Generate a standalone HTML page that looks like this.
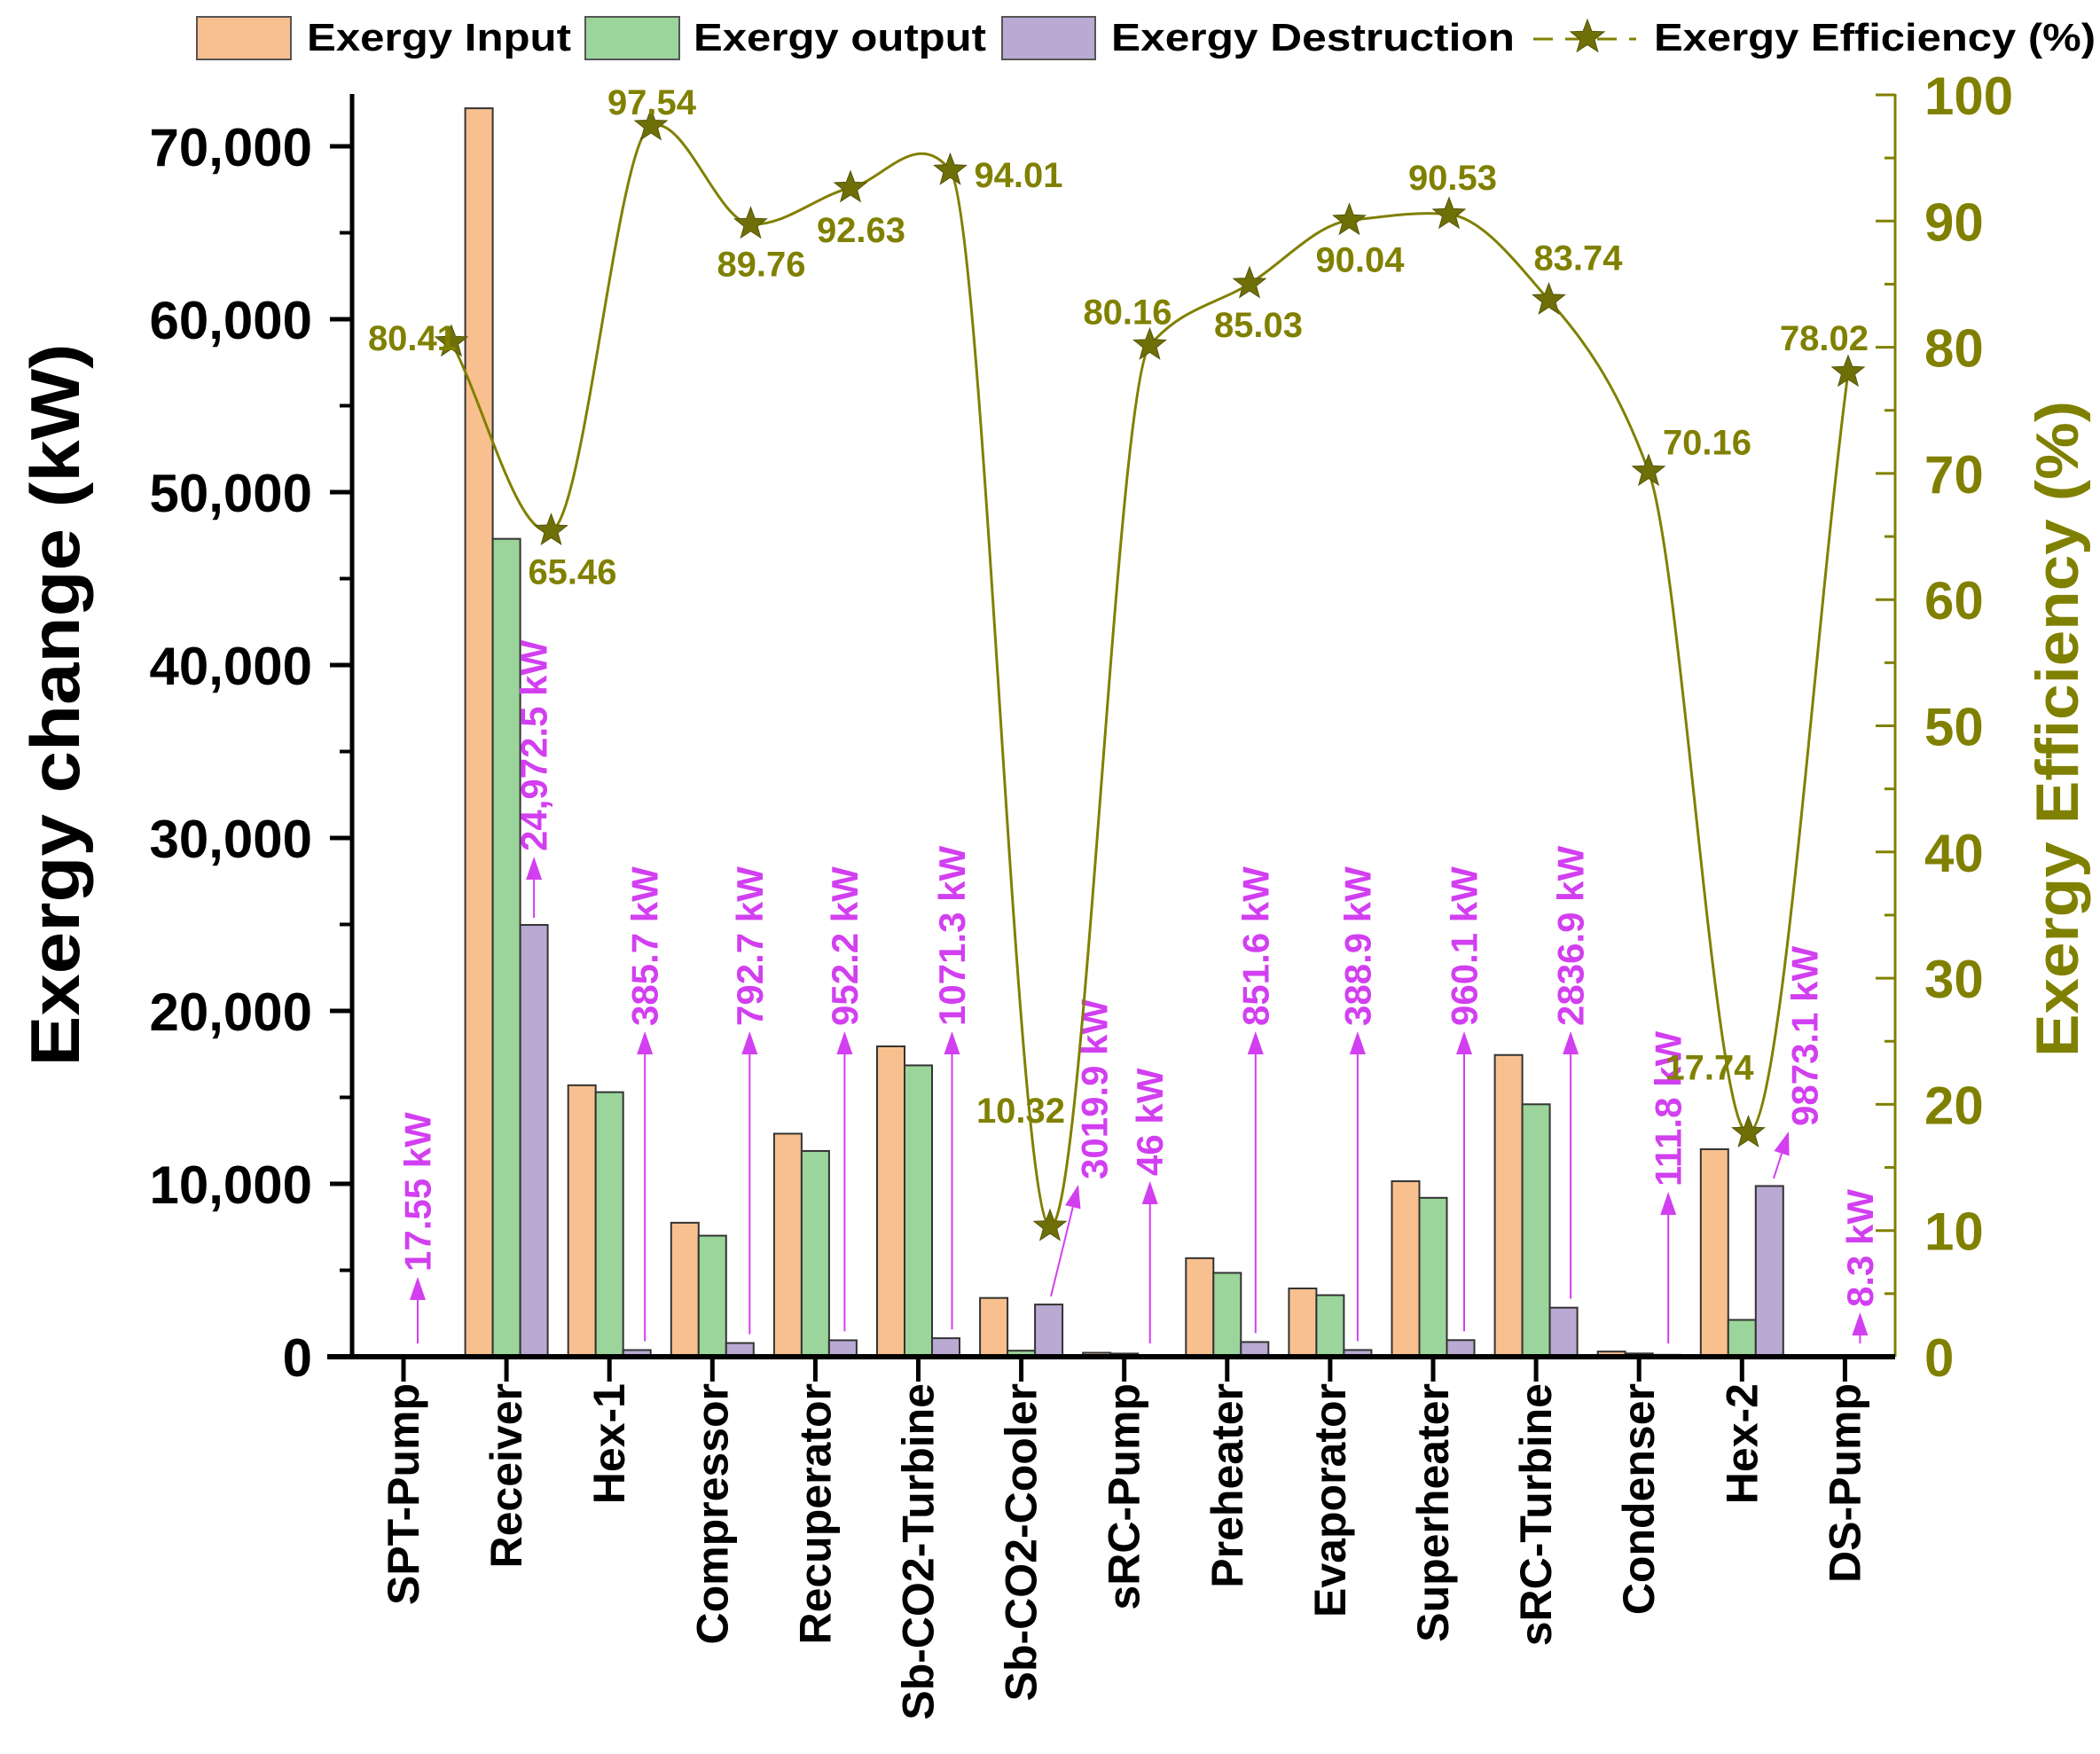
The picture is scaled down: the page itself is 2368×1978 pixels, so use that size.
<!DOCTYPE html>
<html><head><meta charset="utf-8"><style>
html,body{margin:0;padding:0;background:#fff;}
svg{display:block;}
text{font-family:"Liberation Sans",Arial,sans-serif;font-weight:bold;}
</style></head><body>
<svg id="chart" width="2368" height="1978" viewBox="0 0 2368 1978" xmlns="http://www.w3.org/2000/svg">
<g id="legend">
  <rect x="222" y="19" width="106" height="48" fill="#f9c08f" stroke="#555" stroke-width="2"/>
  <text x="346" y="57" font-size="44" textLength="298" lengthAdjust="spacingAndGlyphs">Exergy Input</text>
  <rect x="660" y="19" width="106" height="48" fill="#9bd59b" stroke="#555" stroke-width="2"/>
  <text x="782" y="57" font-size="44" textLength="330" lengthAdjust="spacingAndGlyphs">Exergy output</text>
  <rect x="1130" y="19" width="105" height="48" fill="#b9a9d3" stroke="#555" stroke-width="2"/>
  <text x="1253" y="57" font-size="44" textLength="455" lengthAdjust="spacingAndGlyphs">Exergy Destruction</text>
  <line x1="1729" y1="44" x2="1845" y2="44" stroke="#808000" stroke-width="3" stroke-dasharray="22,14"/>
  <text x="1865" y="57" font-size="44" textLength="498" lengthAdjust="spacingAndGlyphs">Exergy Efficiency (%)</text>
</g>
<g id="plot"></g>
</svg>
<script>
const categories=["SPT-Pump","Receiver","Hex-1","Compressor","Recuperator","Sb-CO2-Turbine","Sb-CO2-Cooler","sRC-Pump","Preheater","Evaporator","Superheater","sRC-Turbine","Condenser","Hex-2","DS-Pump"];
const exergyInput=[20,72200,15700,7750,12900,17950,3400,230,5700,3950,10150,17450,300,12000,38];
const exergyOutput=[3,47300,15300,7000,11900,16850,350,184,4850,3560,9190,14600,190,2130,30];
const exergyDestruction=[17.55,24972.5,385.7,792.7,952.2,1071.3,3019.9,46,851.6,388.9,960.1,2836.9,111.8,9873.1,8.3];
const destructionLabels=["17.55 kW","24,972.5 kW","385.7 kW","792.7 kW","952.2 kW","1071.3 kW","3019.9 kW","46 kW","851.6 kW","388.9 kW","960.1 kW","2836.9 kW","111.8 kW","9873.1 kW","8.3 kW"];
const efficiency=[80.41,65.46,97.54,89.76,92.63,94.01,10.32,80.16,85.03,90.04,90.53,83.74,70.16,17.74,78.02];
const leftTicks=[0,10000,20000,30000,40000,50000,60000,70000];
const leftTickLabels=["0","10,000","20,000","30,000","40,000","50,000","60,000","70,000"];
const rightTicks=[0,10,20,30,40,50,60,70,80,90,100];

// layout (not data)
const effLabelOffset=[[-44,-4],[24,47],[1,-26],[12,46],[12,48],[77,6],[-33,-130],[-25,-37],[10,47],[12,45],[4,-41],[33,-47],[66,-32],[-44,-73],[-27,-38]];
const arrowDx=[16,0,40,42,33,38,0,29,32,31,35,39,33,0,17];
const arrowHeadY=[1440,966,1163,1163,1163,1163,1336,1332,1163,1163,1163,1163,1344,1276,1480];

const NS="http://www.w3.org/2000/svg";
const plot=document.getElementById('plot');
function mk(tag,attrs,parent){const e=document.createElementNS(NS,tag);for(const k in attrs)e.setAttribute(k,attrs[k]);(parent||plot).appendChild(e);return e;}

const X0=397,X1=2137,Y0=1530,YT=106;
const yL=v=>Y0-v*(1365/70000);
const yR=v=>Y0-v*(1423/100);
const xCat=i=>455+i*116.1;
const xEff=i=>509+i*112.5;
const BW=31;
const OLIVE="#808000";

// bars
const series=[[exergyInput,"#f9c08f","input"],[exergyOutput,"#9bd59b","output"],[exergyDestruction,"#b9a9d3","destruction"]];
series.forEach((s,si)=>{
  s[0].forEach((v,i)=>{
    const x=xCat(i)-1.5*BW+si*BW, y=yL(v);
    const r=mk('rect',{x:x,y:y,width:BW,height:Math.max(Y0-y,0.5),fill:s[1],stroke:"#333","stroke-width":2});
    
    
  });
});

// left axis
const la=mk('line',{x1:X0,y1:YT,x2:X0,y2:Y0,stroke:"#000","stroke-width":5});


leftTicks.forEach((v,i)=>{
  const y=yL(v);
  mk('line',{x1:X0-25,y1:y,x2:X0,y2:y,stroke:"#000","stroke-width":5});
  if(i<leftTicks.length-1){const ym=yL(v+5000);mk('line',{x1:X0-14,y1:ym,x2:X0,y2:ym,stroke:"#000","stroke-width":4});}
  const t=mk('text',{x:352,y:y+22,"font-size":60,"text-anchor":"end"});
  t.textContent=leftTickLabels[i];
  
  
});
// right axis
const ra=mk('line',{x1:X1,y1:YT,x2:X1,y2:Y0,stroke:OLIVE,"stroke-width":3});


rightTicks.forEach((v,i)=>{
  const y=yR(v);
  mk('line',{x1:X1-22,y1:y,x2:X1,y2:y,stroke:OLIVE,"stroke-width":3});
  if(i<rightTicks.length-1){const ym=yR(v+5);mk('line',{x1:X1-12,y1:ym,x2:X1,y2:ym,stroke:OLIVE,"stroke-width":3});}
  const t=mk('text',{x:2170,y:y+22,"font-size":60,fill:OLIVE});
  t.textContent=String(v);
  
  
});
// bottom axis
const ba=mk('line',{x1:369,y1:Y0,x2:X1,y2:Y0,stroke:"#000","stroke-width":6});


categories.forEach((c,i)=>{
  const x=xCat(i);
  mk('line',{x1:x,y1:Y0,x2:x,y2:Y0+28,stroke:"#000","stroke-width":5});
  const t=mk('text',{x:x,y:1560,"font-size":50,"text-anchor":"end","dominant-baseline":"central",transform:`rotate(-90 ${x} 1560)`});
  t.textContent=c;
  
  
});
// axis titles
const lt=mk('text',{x:62,y:795,"font-size":78,"text-anchor":"middle","dominant-baseline":"central",transform:"rotate(-90 62 795)",textLength:815,lengthAdjust:"spacingAndGlyphs"});
lt.textContent="Exergy change (kW)";


const rt=mk('text',{x:2320,y:822,"font-size":68,"text-anchor":"middle","dominant-baseline":"central",fill:OLIVE,transform:"rotate(-90 2320 822)",textLength:740,lengthAdjust:"spacingAndGlyphs"});
rt.textContent="Exergy Efficiency (%)";



// destruction annotations
const MAG="#d23ff0";
exergyDestruction.forEach((v,i)=>{
  let xb,yb,xh,yh=arrowHeadY[i];
  if(i===1){xb=xh=xCat(i)+BW;yb=yL(v)-8;}
  else if(i===6){xb=1185;yb=1462;xh=1216;}
  else if(i===13){xb=2000;yb=1329;xh=2017;}
  else{xb=xh=xCat(i)+arrowDx[i];yb=Math.min(yL(exergyDestruction[i])-10,1515);}
  const g=mk('g',{});
  
  
  const ang=Math.atan2(yh-yb,xh-xb);
  const hl=26,hw=9;
  const bx=xh-hl*Math.cos(ang),by=yh-hl*Math.sin(ang);
  mk('line',{x1:xb,y1:yb,x2:bx,y2:by,stroke:MAG,"stroke-width":2},g);
  const px=-Math.sin(ang)*hw,py=Math.cos(ang)*hw;
  mk('polygon',{points:`${xh},${yh} ${bx+px},${by+py} ${bx-px},${by-py}`,fill:MAG},g);
  const tx=xh+(i===6||i===13?18:0),ty=yh-6;
  const t=mk('text',{x:tx,y:ty,"font-size":42,fill:MAG,"dominant-baseline":"central",transform:`rotate(-90 ${tx} ${ty})`},g);
  t.textContent=destructionLabels[i];
});

// efficiency curve (damped cubic spline)
const pts=efficiency.map((v,i)=>[xEff(i),yR(v)]);
const n=pts.length;
const sl=[];for(let i=0;i<n-1;i++)sl.push((pts[i+1][1]-pts[i][1])/(pts[i+1][0]-pts[i][0]));
const m=pts.map((p,i)=>{
  if(i===0)return sl[0];
  if(i===n-1)return sl[n-2];
  const a=sl[i-1],b=sl[i];
  if(a*b<=0)return (a+b)/2*0.25;
  return 2*a*b/(a+b);
});
let d=`M${pts[0][0]},${pts[0][1]}`;
for(let i=0;i<n-1;i++){
  const h=pts[i+1][0]-pts[i][0];
  d+=` C${pts[i][0]+h/3},${pts[i][1]+m[i]*h/3} ${pts[i+1][0]-h/3},${pts[i+1][1]-m[i+1]*h/3} ${pts[i+1][0]},${pts[i+1][1]}`;
}
const curve=mk('path',{d:d,fill:"none",stroke:OLIVE,"stroke-width":3});


function star(cx,cy,R,parent){
  const r=R*0.42;let p=[];
  for(let k=0;k<10;k++){const a=-Math.PI/2+k*Math.PI/5;const rr=k%2?r:R;p.push((cx+rr*Math.cos(a)).toFixed(1)+','+(cy+rr*Math.sin(a)).toFixed(1));}
  return mk('polygon',{points:p.join(' '),fill:"#6f6f08",stroke:"#55550a","stroke-width":1},parent);
}
const ls=star(1790,42,20,document.getElementById('legend'));


efficiency.forEach((v,i)=>{
  const s=star(xEff(i),yR(v),19);
  
  
  const t=mk('text',{x:xEff(i)+effLabelOffset[i][0],y:yR(v)+effLabelOffset[i][1],"font-size":40,fill:OLIVE,"text-anchor":"middle","dominant-baseline":"central"});
  t.textContent=v.toFixed(2);
  
  
});
</script>
</body></html>
